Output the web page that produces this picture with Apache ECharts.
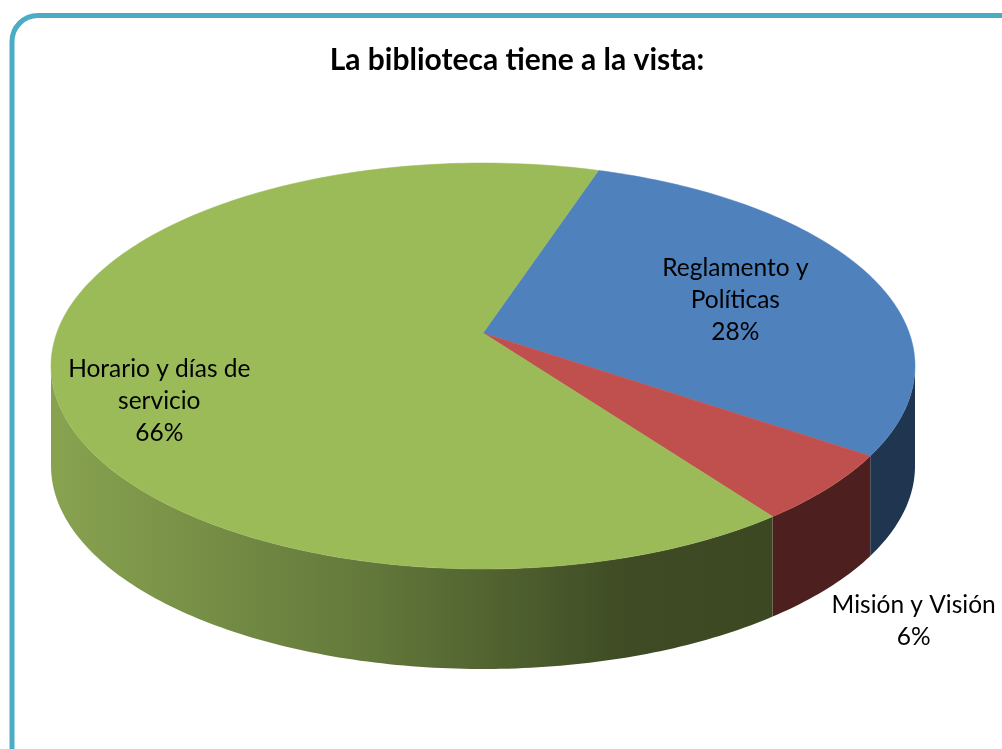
<!DOCTYPE html>
<html>
<head>
<meta charset="utf-8">
<script src="https://cdn.jsdelivr.net/npm/echarts@6/dist/echarts.min.js"></script>
<style>
html,body{margin:0;padding:0;background:#fff;}
#chart{width:1002px;height:749px;}
</style>
</head>
<body>
<div id="chart"></div>
<script>
// ---- data ----
const titleText = 'La biblioteca tiene a la vista:';
const categories = ['Reglamento y\nPolíticas', 'Misión y Visión', 'Horario y días de\nservicio'];
const values = [28, 6, 66];

// ---- styles ----
const topColors = ['#4F81BD', '#C0504D', '#9BBB59'];
const sideColors = [
  '#1F3550',
  '#4E1F1F',
  {type:'linear', x:0, y:0, x2:1, y2:0, colorStops:[
    {offset:0, color:'#88A350'},
    {offset:0.45, color:'#62773A'},
    {offset:0.8, color:'#3E4B24'},
    {offset:1, color:'#3C4822'}
  ]}
];
// label placement: fraction along apex->rim, extra vertical shift
const labelPlace = [{r:0.64, dy:-1}, {r:1.25, dy:94}, {r:0.77, dy:7}];

const geo = {cx:483, cy:366, rx:432, ry:203, apexY:333, depth:100, start:-74.5};

const total = values.reduce((a,b)=>a+b,0);
const starts = [];
{ let acc = geo.start; values.forEach(v => { starts.push(acc); acc += v/total*360; }); }

function pt(t, dy){
  const r = t*Math.PI/180;
  return [geo.cx + geo.rx*Math.cos(r), geo.cy + geo.ry*Math.sin(r) + (dy||0)];
}
function arc(t0, t1, dy){
  const out = [];
  const n = Math.max(2, Math.ceil(Math.abs(t1-t0)));
  for (let i=0;i<=n;i++) out.push(pt(t0 + (t1-t0)*i/n, dy));
  return out;
}

function renderItem(params, api){
  const i = params.dataIndex;
  const v = api.value(0);
  const t0 = starts[i];
  const t1 = t0 + v/total*360;
  const children = [];
  const a = Math.max(t0, 0), b = Math.min(t1, 180);
  if (b > a){
    const top = arc(a, b, 0);
    const bot = arc(b, a, geo.depth);
    children.push({type:'polygon', shape:{points: top.concat(bot)},
      style:{fill: sideColors[i], stroke:null}, z2:1});
  }
  const apex = [geo.cx, geo.apexY];
  const pts = [apex].concat(arc(t0, t1, 0));
  children.push({type:'polygon', shape:{points: pts},
    style:{fill: topColors[i], stroke: topColors[i], lineWidth:0.5}, z2:2});
  const mid = (t0+t1)/2;
  const rim = pt(mid, 0);
  const lp = labelPlace[i];
  const lx = apex[0] + lp.r*(rim[0]-apex[0]);
  const ly = apex[1] + lp.r*(rim[1]-apex[1]) + lp.dy;
  children.push({type:'text', z2:10, style:{
    text: categories[i] + '\n' + Math.round(v/total*100) + '%',
    x: lx, y: ly, align:'center', verticalAlign:'middle',
    fontFamily:'Lato', fontSize:24.5, lineHeight:32, fill:'#000'
  }});
  return {type:'group', children};
}

const chart = echarts.init(document.getElementById('chart'), null, {renderer:'canvas'});
chart.setOption({
  animation:false,
  backgroundColor:'#fff',
  title:{text:titleText, left:512, top:40, textAlign:'center',
    textStyle:{fontFamily:'Lato', fontWeight:'bold', fontSize:30, color:'#000'}},
  graphic:[{type:'rect', z:-1, shape:{x:12, y:15.5, width:1020, height:760, r:26},
    style:{fill:'none', stroke:'#4BACC6', lineWidth:5}}],
  series:[{type:'custom', coordinateSystem:'none', renderItem,
    data: values.map((v,i)=>({name:categories[i], value:[v]}))}]
});
</script>
</body>
</html>
